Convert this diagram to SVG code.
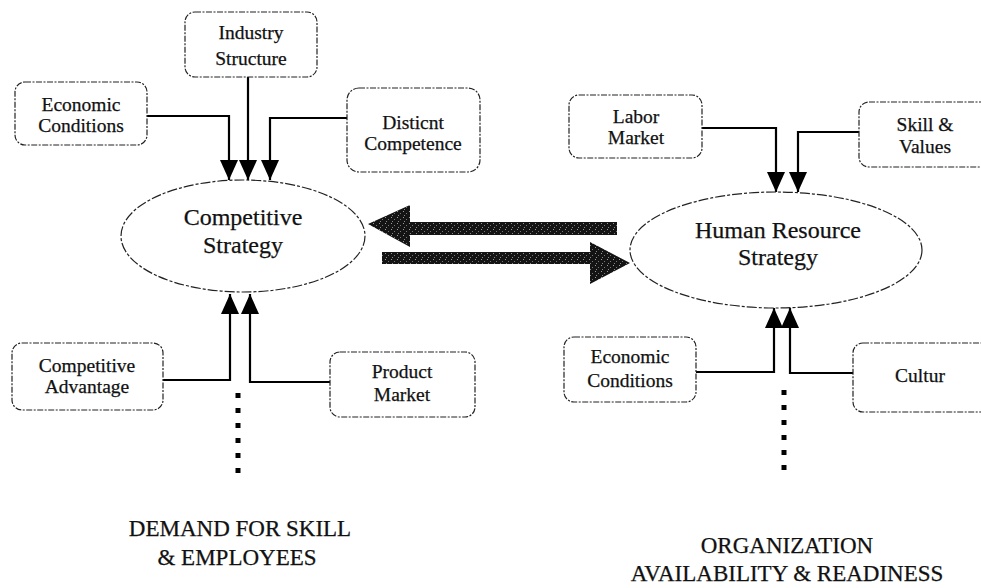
<svg xmlns="http://www.w3.org/2000/svg" width="981" height="588" viewBox="0 0 981 588">
<style>
  .box { fill: #fff; stroke: #222; stroke-width: 1.2; stroke-dasharray: 6 1.5 2 1.5; }
  .ell { fill: #fff; stroke: #222; stroke-width: 1.2; stroke-dasharray: 10 2 3 2; }
  .bt { font-family: "Liberation Serif", "Times New Roman", serif; font-size: 19.5px; fill: #111; stroke: #111; stroke-width: 0.25; text-anchor: middle; }
  .et { font-family: "Liberation Serif", "Times New Roman", serif; font-size: 24px; fill: #111; stroke: #111; stroke-width: 0.25; text-anchor: middle; }
  .lt { font-family: "Liberation Serif", "Times New Roman", serif; font-size: 23px; fill: #111; stroke: #111; stroke-width: 0.25; text-anchor: middle; }
  .con { fill: none; stroke: #000; stroke-width: 2.2; marker-end: url(#ah); }
  .dots { fill: none; stroke: #000; stroke-width: 5; stroke-dasharray: 5 10; }
  .big { fill: url(#stip); }
</style>
<defs>
  <marker id="ah" viewBox="0 0 20 18" refX="20" refY="9" markerWidth="20" markerHeight="18" orient="auto" markerUnits="userSpaceOnUse">
    <path d="M0,0 L20,9 L0,18 Z" fill="#000"/>
  </marker>
  <pattern id="stip" width="6" height="6" patternUnits="userSpaceOnUse">
    <rect width="6" height="6" fill="#141414"/>
    <rect x="1" y="1" width="1" height="1" fill="#9a9a9a"/>
    <rect x="4" y="3" width="1" height="1" fill="#777"/>
    <rect x="2" y="5" width="1" height="1" fill="#888"/>
  </pattern>
</defs>

<g id="connectors">
  <path class="con" d="M147,116 H229 V180"/>
  <path class="con" d="M248,77 V180"/>
  <path class="con" d="M347,118 H270 V180"/>
  <path class="con" d="M163,380 H230 V294"/>
  <path class="con" d="M330,382 H250 V294"/>
  <path class="con" d="M702,128 H776 V192"/>
  <path class="con" d="M859,132 H798 V192"/>
  <path class="con" d="M696,372 H774 V308"/>
  <path class="con" d="M853,373 H790 V308"/>
  <path class="dots" d="M238,393 V477"/>
  <path class="dots" d="M784,390 V472"/>
  <polygon class="big" points="368,224 410,205 410,222 617,222 617,235 410,235 410,247"/>
  <polygon class="big" points="382,252 590,252 590,242 630,263 590,284 590,264 382,264"/>
</g>

<g id="industry-structure">
  <rect class="box" x="185" y="12" width="132" height="65" rx="10"/>
  <text class="bt" x="251" y="39">Industry</text>
  <text class="bt" x="251" y="65">Structure</text>
</g>
<g id="economic-conditions-left">
  <rect class="box" x="15" y="82" width="132" height="63" rx="10"/>
  <text class="bt" x="81" y="111">Economic</text>
  <text class="bt" x="81" y="132">Conditions</text>
</g>
<g id="distinct-competence">
  <rect class="box" x="347" y="88" width="133" height="84" rx="12"/>
  <text class="bt" x="413" y="129">Disticnt</text>
  <text class="bt" x="413" y="150">Competence</text>
</g>
<g id="competitive-strategy">
  <ellipse class="ell" cx="243" cy="236" rx="122" ry="56"/>
  <text class="et" x="243" y="225">Competitive</text>
  <text class="et" x="243" y="253">Strategy</text>
</g>
<g id="competitive-advantage">
  <rect class="box" x="12" y="343" width="151" height="67" rx="10"/>
  <text class="bt" x="87" y="372">Competitive</text>
  <text class="bt" x="87" y="393">Advantage</text>
</g>
<g id="product-market">
  <rect class="box" x="330" y="352" width="145" height="65" rx="10"/>
  <text class="bt" x="402" y="378">Product</text>
  <text class="bt" x="402" y="401">Market</text>
</g>
<g id="labor-market">
  <rect class="box" x="569" y="95" width="133" height="63" rx="10"/>
  <text class="bt" x="636" y="123">Labor</text>
  <text class="bt" x="636" y="144">Market</text>
</g>
<g id="skill-values">
  <rect class="box" x="859" y="102" width="140" height="65" rx="10"/>
  <text class="bt" x="925" y="131">Skill &amp;</text>
  <text class="bt" x="925" y="153">Values</text>
</g>
<g id="hr-strategy">
  <ellipse class="ell" cx="776" cy="250" rx="146" ry="58"/>
  <text class="et" x="778" y="238">Human Resource</text>
  <text class="et" x="778" y="265">Strategy</text>
</g>
<g id="economic-conditions-right">
  <rect class="box" x="564" y="337" width="132" height="65" rx="10"/>
  <text class="bt" x="630" y="363">Economic</text>
  <text class="bt" x="630" y="387">Conditions</text>
</g>
<g id="cultur">
  <rect class="box" x="853" y="343" width="140" height="69" rx="10"/>
  <text class="bt" x="920" y="382">Cultur</text>
</g>
<g id="demand-label">
  <text class="lt" x="240" y="536">DEMAND FOR SKILL</text>
  <text class="lt" x="237" y="565">&amp; EMPLOYEES</text>
</g>
<g id="organization-label">
  <text class="lt" x="787" y="553">ORGANIZATION</text>
  <text class="lt" x="787" y="581">AVAILABILITY &amp; READINESS</text>
</g>
</svg>
